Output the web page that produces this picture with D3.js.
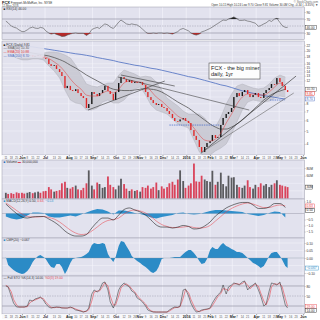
<!DOCTYPE html>
<html><head><meta charset="utf-8">
<script src="https://cdn.jsdelivr.net/npm/d3@7"></script>
<style>
html,body{margin:0;padding:0;background:#fff;}
svg{display:block;}
text{font-family:"Liberation Sans","DejaVu Sans",Arial,sans-serif;}
</style></head><body>
<svg id="chart" width="320" height="320"></svg>
<script>
// ---------------- data ----------------
// daily series: two sessions per week (Mon, Thu), 11-May-2015 .. 12-May-2016
const closes = [21.7,21.4,21.0,20.6,19.9,19.3,18.3,18.0,18.3,18.6,
 18.0,18.3,18.6,18.3,17.65,17.35,15.9,15.4,15.6,14.6,
 13.86,12.94,10.5,10.9,10.15,9.98,10.3,9.64,9.15,8.84,
 7.44,7.97,9.81,9.48,9.15,9.64,10.15,10.9,9.98,9.48,
 8.54,9.81,11.46,12.72,12.28,11.66,12.07,11.46,11.66,11.46,
 11.66,11.07,9.81,8.99,8.54,8.11,7.84,7.97,7.57,7.44,
 7.06,6.71,6.26,5.94,5.9,6.1,6.25,5.95,5.74,5.08,
 4.59,4.28,3.79,3.48,3.79,4.06,4.2,4.66,4.43,4.5,
 5.55,6.26,6.71,6.94,7.44,8.99,9.64,9.15,9.81,10.15,
 9.48,8.99,9.31,9.64,8.99,8.85,9.64,10.15,10.51,11.27,
 11.2,12.49,11.66,10.9,10.15,9.81];
const volumesM = [15,12,14,12,16,14,15,13,15,17,
 14,16,18,15,19,20,30,24,18,20,
 22,40,44,28,26,30,34,24,22,28,
 40,74,34,24,42,38,28,30,58,36,
 30,24,34,52,38,26,20,24,20,22,
 18,30,28,34,26,30,42,22,32,26,
 30,40,44,36,50,74,46,28,34,40,
 92,45,44,60,50,46,44,73,36,44,
 68,38,32,60,55,56,36,30,28,34,
 48,30,26,36,30,40,34,38,30,36,
 40,48,36,34,32,30];
const rsi14 = [64,59,50,47,44,39,34,34,39,44,
 47,44,43,46,44,36,30,27,29,26,
 23,20,21,24,27,29,30,29,29,29,
 23,27,40,43,46,43,51,56,53,47,
 43,50,61,67,61,56,54,56,54,53,
 47,41,33,29,29,30,29,30,30,29,
 30,29,27,30,34,40,43,40,36,30,
 26,24,27,33,36,39,43,47,53,57,
 63,67,66,70,73,76,71,66,66,67,
 64,63,60,58,49,51,56,59,66,63,
 70,72,60,51,46,46];
const stochK = [80,77,50,29,17,17,17,17,20,38,
 35,41,44,47,38,26,17,14,16,17,
 16,14,14,14,17,14,8,7,4,2,
 5,14,56,68,62,68,89,92,68,32,
 14,32,68,80,89,83,77,65,59,44,
 38,32,20,8,4,2,2,2,2,2,
 2,8,14,17,16,20,68,71,50,29,
 11,2,4,8,10,11,14,29,44,53,
 62,83,56,77,83,89,86,83,92,95,
 68,77,83,89,68,50,20,26,65,89,
 86,83,92,62,23,14];
const stochD = [82,78,63,40,23,17,17,17,18,29,
 36,38,42,45,42,32,22,16,15,16,
 16,15,14,14,15,15,11,8,6,3,
 4,9,35,62,65,65,78,90,80,50,
 23,23,50,74,84,86,80,71,62,52,
 41,35,26,14,6,3,2,2,2,2,
 2,5,11,15,16,18,44,69,60,40,
 20,7,3,6,9,10,12,21,36,48,
 57,72,70,66,80,86,87,85,87,93,
 82,72,80,86,79,59,35,23,45,77,
 87,85,87,77,43,19];
const cmf20 = [0.007,-0.047,-0.067,-0.08,-0.093,-0.1,-0.107,-0.103,-0.087,-0.067,
 -0.027,-0.007,0.013,0.02,0.007,-0.007,-0.04,-0.06,-0.067,-0.04,
 -0.04,-0.06,-0.107,-0.08,-0.033,-0.007,0,0.003,0.007,0.013,
 0.027,0.04,0.087,0.1,0.093,0.093,0.1,0.093,0.027,0,
 -0.027,0.007,0.08,0.113,0.107,0.08,0.047,0.013,-0.007,-0.02,
 -0.033,-0.047,-0.06,-0.073,-0.093,-0.1,-0.087,-0.06,-0.007,0,
 0,0,0.003,0.007,0.007,0.007,0.027,0.04,0.053,0.053,
 0.033,0.013,-0.02,-0.04,-0.033,-0.007,0.053,0.073,0.06,0.06,
 0.087,0.1,0.08,0.073,0.06,0.053,0.04,0.04,0.033,0.02,
 0,-0.013,-0.033,-0.04,-0.053,-0.067,-0.053,-0.027,0.013,0.033,
 0.04,0.04,0.013,-0.013,-0.053,-0.067];
// weekly series (Mondays)
const macdLine = [0.79,0.38,0,-0.29,-0.38,-0.29,-0.25,-0.25,-0.46,-0.71,
 -1.04,-1.46,-1.75,-1.88,-1.88,-1.75,-1.21,-0.71,-0.38,-0.38,
 -0.54,-0.13,0.33,0.46,0.29,0.13,-0.13,-0.54,-0.96,-1.13,
 -1.13,-1.21,-1.13,-1.0,-1.08,-1.29,-1.25,-1.04,-0.71,-0.21,
 0.13,0.46,0.67,0.83,0.92,0.92,0.71,0.42,0.42,0.54,
 0.83,0.83,0.5];
const macdSignal = [0.88,0.58,0.25,-0.04,-0.25,-0.29,-0.29,-0.25,-0.33,-0.46,
 -0.71,-1.04,-1.38,-1.63,-1.75,-1.71,-1.46,-1.13,-0.79,-0.58,
 -0.5,-0.38,-0.04,0.21,0.29,0.21,0.04,-0.25,-0.63,-0.92,
 -1.08,-1.17,-1.17,-1.13,-1.08,-1.17,-1.21,-1.17,-1.0,-0.63,
 -0.25,0.13,0.42,0.63,0.79,0.88,0.79,0.63,0.5,0.5,
 0.63,0.71,0.63];
const macdHist = [-0.25,-0.42,-0.5,-0.42,-0.17,0.08,0.08,0.04,-0.25,-0.33,
 -0.33,-0.25,-0.17,-0.25,-0.08,0.08,0.25,0.38,0.33,0.17,
 -0.08,0.25,0.25,0.17,0.04,-0.04,-0.17,-0.33,-0.42,-0.29,
 -0.21,-0.13,0.04,0.08,-0.04,-0.08,-0.04,0.08,0.21,0.29,
 0.29,0.25,0.21,0.17,0.13,-0.04,-0.13,-0.21,-0.13,0.04,
 0.17,0.13,-0.33];
const sma50 = [21.0,20.6,20.3,19.9,19.6,19.25,18.9,18.6,18.3,17.8,
 17.2,16.5,15.6,14.85,14.0,13.16,12.5,11.9,11.3,10.7,
 10.3,10.15,10.06,10.06,10.15,10.3,10.4,10.3,10.15,9.8,
 9.3,8.76,8.25,7.83,7.43,6.94,6.47,6.04,5.64,5.35,
 5.17,5.17,5.35,5.64,6.04,6.59,7.18,7.83,8.54,9.15,
 9.64,9.98,10.3];
const sma200 = [22.9,22.5,22.3,22.0,21.6,21.4,21.1,20.8,20.5,20.2,
 19.9,19.6,19.3,19.0,18.8,18.5,18.2,17.8,17.5,17.2,
 16.9,16.5,16.2,15.9,15.6,15.4,15.1,14.8,14.6,14.3,
 14.0,13.7,13.4,13.1,12.8,12.6,12.3,12.0,11.7,11.4,
 11.1,10.9,10.6,10.3,10.0,9.8,9.6,9.4,9.2,9.1,
 8.95,8.8,8.7];
const ema20 = [21.7,21.0,20.3,19.25,18.6,18.3,18.3,18.1,17.5,16.5,
 15.4,13.9,12.3,11.1,10.3,9.3,9.15,9.15,9.64,9.98,
 9.64,10.3,11.46,11.86,11.76,11.66,11.07,9.98,8.99,8.39,
 7.7,7.06,6.47,6.15,5.84,5.26,4.66,4.27,4.2,4.35,
 4.82,5.74,6.7,7.97,8.99,9.47,9.47,9.31,9.31,9.81,
 10.69,11.46,10.88];
const bbUpper = [23.3,22.9,22.5,21.4,19.9,19.25,19.25,19.25,19.6,19.6,
 19.25,18.6,17.7,15.6,13.16,11.26,10.9,10.7,11.07,11.46,
 11.46,13.16,14.35,13.86,13.39,12.7,12.9,12.7,11.66,10.15,
 8.84,8.25,7.7,7.06,6.7,6.7,6.7,6.25,5.54,5.35,
 6.36,7.97,9.47,10.88,11.26,10.88,10.51,10.33,10.51,11.26,
 12.49,13.16,12.7];
const bbLower = [19.6,18.6,17.7,17.1,17.1,17.4,17.4,17.1,15.4,14.1,
 12.5,10.15,8.54,8.11,7.97,7.18,7.18,7.43,8.25,8.54,
 8.11,8.11,8.54,9.47,10.33,10.7,9.31,7.83,7.18,6.94,
 6.7,6.15,5.64,5.44,5.26,4.27,3.48,3.19,3.3,3.54,
 3.72,3.99,4.74,5.84,7.18,8.25,8.54,8.39,8.25,8.39,
 8.84,9.15,8.99];
const lastOHLC = [10.15,10.24,9.70,9.81];
const monthLabels = ["Jun","Jul","Aug","Sep","Oct","Nov","Dec","2016","Feb","Mar","Apr","May","Jun"];
const priceTicks = [4,5,6,7,8,9,10,11,12,13,14,15,16,18,20,22];
const rsiTicks = [90,70,30];
const volTicks = [20,40,60,80];
const macdTicks = [1,0.5,0,-0.5,-1,-1.5];
const cmfTicks = [0.1,0.05,0,-0.05,-0.1];
const stoTicks = [80,50,20];
const trendLines = [
  {from:[new Date(2015,7,26),7.18], to:[new Date(2015,11,4),11.86], color:"#333"},
  {from:[new Date(2015,9,8),13.16], to:[new Date(2015,11,17),10.88], color:"#333"},
  {from:[new Date(2015,9,4),12.71], to:[new Date(2016,2,23),7.18], color:"#444"},
  {from:[new Date(2016,0,20),3.40], to:[new Date(2016,4,23),12.93], color:"#222"},
  {from:[new Date(2016,0,25),3.57], to:[new Date(2016,4,20),9.64], color:"#666"}
];
const levelLines = [
  {from:new Date(2015,11,10), to:new Date(2016,1,14), price:5.54},
  {from:new Date(2016,3,19), to:new Date(2016,4,8), price:8.54}
];
const noteLines = ["FCX - the big miner","daily, 1yr"];

// ---------------- layout ----------------
const BG="#e2e2ee", GRID="#f4f4fa", BORDER="#9c9cac", RED="#e02a2a", FONT="Liberation Sans, Arial, sans-serif";
const X0=2, X1=304.5;
const P={rsi:[7,39.5], price:[41,155], vol:[160,199], macd:[199,238], cmf:[238,276], sto:[276,314]};

const days = d3.timeDay.range(new Date(2015,4,11), new Date(2016,4,13)).filter(d=>d.getDay()===1||d.getDay()===4);
const weeks = days.filter(d=>d.getDay()===1);
const monthStarts = d3.timeMonth.range(new Date(2015,5,1), new Date(2016,5,2));
const mondays = d3.timeMonday.range(new Date(2015,4,6), new Date(2016,5,3));

const x = d3.scaleTime().domain([new Date(2015,4,6), new Date(2016,5,3)]).range([X0,X1]);
const rsiY = d3.scaleLinear().domain([0,100]).range([43.5,8.5]);
const priceY = d3.scaleLog().domain([3.3,23.3]).range([155,42]);
const volY = d3.scaleLinear().domain([0,100]).range([198.5,160.5]);
const macdY = d3.scaleLinear().domain([-2,1]).range([237.5,201.5]);
const cmfY = d3.scaleLinear().domain([-0.12,0.12]).range([276,240]);
const stoY = d3.scaleLinear().domain([0,100]).range([312.7,279.3]);

const svg = d3.select("#chart");
svg.append("rect").attr("width",320).attr("height",320).attr("fill","#fff");
const defs = svg.append("defs");

function makePanel(key){
  const [t,b] = P[key];
  defs.append("clipPath").attr("id","cp-"+key).append("rect")
    .attr("x",X0).attr("y",t).attr("width",X1-X0).attr("height",b-t);
  const g = svg.append("g");
  g.append("rect").attr("x",X0).attr("y",t).attr("width",X1-X0).attr("height",b-t).attr("fill",BG);
  g.append("g").selectAll("line").data(monthStarts).join("line")
    .attr("x1",d=>x(d)).attr("x2",d=>x(d)).attr("y1",t).attr("y2",b)
    .attr("stroke",GRID).attr("stroke-width",0.7);
  const c = g.append("g").attr("clip-path",`url(#cp-${key})`);
  return {g,c,t,b};
}
function frame(p){
  p.g.append("rect").attr("x",X0).attr("y",p.t).attr("width",X1-X0).attr("height",p.b-p.t)
    .attr("fill","none").attr("stroke",BORDER).attr("stroke-width",0.5);
}
function hlines(p, scale, vals, color, width, dash){
  p.c.append("g").selectAll("line").data(vals).join("line")
    .attr("x1",X0).attr("x2",X1).attr("y1",d=>scale(d)).attr("y2",d=>scale(d))
    .attr("stroke",color).attr("stroke-width",width).attr("stroke-dasharray",dash||null);
}
// right axis + current-value boxes, spaced so that no two texts collide
function rightSide(p, scale, ticks, fmt, items){
  const placed = items.map(it=>({...it, y:scale(it.v)})).sort((a,b)=>a.y-b.y);
  for(let i=1;i<placed.length;i++) if(placed[i].y < placed[i-1].y+4.4) placed[i].y = placed[i-1].y+4.4;
  const keep = ticks.filter(t=>placed.every(b=>Math.abs(scale(t)-b.y)>4.2));
  const ax = d3.axisRight(scale).tickValues(keep).tickFormat(fmt).tickSize(1.2).tickPadding(0.8);
  const a = p.g.append("g").attr("transform",`translate(${X1},0)`).call(ax);
  a.select(".domain").remove();
  a.selectAll("text").attr("font-size",3.3).attr("fill","#333").attr("font-family",FONT);
  a.selectAll("line").attr("stroke","#777").attr("stroke-width",0.4);
  placed.forEach(b=>{
    const w = b.txt.length*1.85+1.4;
    p.g.append("rect").attr("x",X1+1.2).attr("y",b.y-2).attr("width",w).attr("height",4)
      .attr("fill","#fff").attr("stroke",b.color).attr("stroke-width",0.45);
    p.g.append("text").attr("x",X1+1.9).attr("y",b.y+1.15).attr("font-size",3.3)
      .attr("fill",b.color).attr("font-family",FONT).text(b.txt);
  });
}
function panelLabel(p, y, parts){
  const t = p.g.append("text").attr("x",X0+1.5).attr("y",y).attr("font-size",3.2).attr("font-family",FONT);
  parts.forEach(([s,c])=>t.append("tspan").attr("fill",c).text(s));
}
function dateAxis(yTop){
  const g = svg.append("g");
  g.append("rect").attr("x",X0).attr("y",yTop).attr("width",X1-X0).attr("height",5).attr("fill","#f8f8fb");
  const minor = mondays.filter(m=>monthStarts.every(s=>Math.abs(x(s)-x(m))>4.5));
  g.append("g").selectAll("text").data(minor).join("text")
    .attr("x",d=>x(d)).attr("y",yTop+3.7).attr("text-anchor","middle")
    .attr("font-size",2.8).attr("fill","#555").attr("font-family",FONT)
    .text(d=>d.getDate());
  const ax = d3.axisBottom(x).tickValues(monthStarts).tickFormat((d,i)=>monthLabels[i]).tickSize(1.3).tickPadding(0.2);
  const a = g.append("g").attr("transform",`translate(0,${yTop})`).call(ax);
  a.select(".domain").remove();
  a.selectAll("line").attr("stroke","#555").attr("stroke-width",0.5);
  a.selectAll("text").attr("font-size",3.5).attr("font-weight","bold").attr("fill","#222").attr("font-family",FONT);
}
const f2 = d3.format(".2f");
const last = closes.length-1;

// ---------------- header ----------------
const h1 = svg.append("text").attr("x",2).attr("y",3.6).attr("font-family",FONT);
h1.append("tspan").attr("font-size",4).attr("font-weight","bold").attr("fill","#111").text("FCX");
h1.append("tspan").attr("font-size",3).attr("fill","#333").text("  Freeport-McMoRan, Inc.  NYSE");
svg.append("text").attr("x",2).attr("y",6.6).attr("font-size",2.8).attr("fill","#444").attr("font-family",FONT).text("12-May-2016");
svg.append("text").attr("x",318).attr("y",3).attr("text-anchor","end").attr("font-size",2.8).attr("fill","#666").attr("font-family",FONT).text("© StockCharts.com");
const chg = closes[last]-closes[last-1];
svg.append("text").attr("x",318).attr("y",6.4).attr("text-anchor","end").attr("font-size",2.9).attr("fill","#333").attr("font-family",FONT)
  .text(`Open ${f2(lastOHLC[0])}  High ${f2(lastOHLC[1])}  Low ${f2(lastOHLC[2])}  Close ${f2(lastOHLC[3])}  Volume ${volumesM[last].toFixed(1)}M  Chg ${f2(chg)} (${f2(chg/closes[last-1]*100)}%) ▼`);

// ---------------- RSI ----------------
const pr = makePanel("rsi");
hlines(pr, rsiY, [70,30], "#8a8a9a", 0.6);
hlines(pr, rsiY, [50], "#9a9aaa", 0.5, "1.5,1");
pr.c.append("path").datum(rsi14).attr("fill","#b52a2a")
  .attr("d", d3.area().x((d,i)=>x(days[i])).y0(rsiY(30)).y1(d=>rsiY(Math.min(d,30))));
pr.c.append("path").datum(rsi14).attr("fill","#222")
  .attr("d", d3.area().x((d,i)=>x(days[i])).y0(rsiY(70)).y1(d=>rsiY(Math.max(d,70))));
pr.c.append("path").datum(rsi14).attr("fill","none").attr("stroke","#444").attr("stroke-width",0.55)
  .attr("d", d3.line().x((d,i)=>x(days[i])).y(d=>rsiY(d)));
panelLabel(pr, 10.3, [["■ ","#333"],["RSI(14) "+f2(rsi14[last]),"#333"]]);
rightSide(pr, rsiY, rsiTicks, d=>d, [{v:rsi14[last], txt:f2(rsi14[last]), color:"#333"}]);
frame(pr);

// ---------------- PRICE ----------------
const pp = makePanel("price");
hlines(pp, priceY, priceTicks, GRID, 0.5);
pp.c.append("path").datum(weeks).attr("fill","#c3c3cc").attr("fill-opacity",0.75)
  .attr("d", d3.area().x(d=>x(d)).y0((d,i)=>priceY(bbLower[i])).y1((d,i)=>priceY(bbUpper[i])));
[bbUpper,bbLower].forEach(arr=>pp.c.append("path").datum(arr).attr("fill","none").attr("stroke","#a8a8b2").attr("stroke-width",0.4)
  .attr("d", d3.line().x((d,i)=>x(weeks[i])).y(d=>priceY(d))));
pp.c.append("path").datum(sma200).attr("fill","none").attr("stroke","#4a6cc0").attr("stroke-width",0.8)
  .attr("d", d3.line().x((d,i)=>x(weeks[i])).y(d=>priceY(d)).curve(d3.curveMonotoneX));
pp.c.append("path").datum(sma50).attr("fill","none").attr("stroke","#555").attr("stroke-width",0.8)
  .attr("d", d3.line().x((d,i)=>x(weeks[i])).y(d=>priceY(d)).curve(d3.curveMonotoneX));
levelLines.forEach(l=>pp.c.append("line").attr("x1",x(l.from)).attr("x2",x(l.to))
  .attr("y1",priceY(l.price)).attr("y2",priceY(l.price)).attr("stroke","#3c64c8").attr("stroke-width",0.7).attr("stroke-dasharray","1.5,0.8"));
const openOf = i => i>0 ? closes[i-1] : closes[0]*1.01;
pp.c.append("g").selectAll("rect").data(closes).join("rect")
  .attr("x",(d,i)=>x(days[i])-0.7).attr("width",1.4)
  .attr("y",(d,i)=>Math.min(priceY(d),priceY(openOf(i))))
  .attr("height",(d,i)=>Math.max(0.8,Math.abs(priceY(d)-priceY(openOf(i)))))
  .attr("fill",(d,i)=> d<openOf(i)?RED:"#151515");
pp.c.append("path").datum(ema20).attr("fill","none").attr("stroke","#e23b3b").attr("stroke-width",0.5)
  .attr("d", d3.line().x((d,i)=>x(weeks[i])).y(d=>priceY(d)).curve(d3.curveMonotoneX));
trendLines.forEach(t=>pp.c.append("line")
  .attr("x1",x(t.from[0])).attr("y1",priceY(t.from[1])).attr("x2",x(t.to[0])).attr("y2",priceY(t.to[1]))
  .attr("stroke",t.color).attr("stroke-width",0.6));
// note box
const nb = pp.g.append("g");
nb.append("rect").attr("x",209).attr("y",63).attr("width",51).attr("height",16).attr("fill","#fdfdfd").attr("stroke","#333").attr("stroke-width",0.5);
nb.selectAll("text").data(noteLines).join("text").attr("x",211).attr("y",(d,i)=>69.5+i*6.8)
  .attr("font-size",5.6).attr("fill","#222").attr("font-family",FONT).text(d=>d);
// legend
pp.g.append("rect").attr("x",X0+0.3).attr("y",P.price[0]+0.3).attr("width",42).attr("height",16.5).attr("fill",BG).attr("opacity",0.92);
panelLabel(pp, 45.5, [["■ ","#222"],["FCX (Daily) "+f2(closes[last]),"#333"]]);
panelLabel(pp, 49.3, [["— ","#555"],["SMA(50) "+f2(sma50[sma50.length-1]),"#555"]]);
panelLabel(pp, 53.1, [["— ","#e23b3b"],["EMA(20) "+f2(ema20[ema20.length-1]),"#e23b3b"]]);
panelLabel(pp, 56.9, [["— ","#4a6cc0"],["SMA(200) "+f2(sma200[sma200.length-1]),"#4a6cc0"]]);
rightSide(pp, priceY, priceTicks, d=>d, [
  {v:sma50[sma50.length-1], txt:f2(sma50[sma50.length-1]), color:"#555"},
  {v:closes[last], txt:f2(closes[last]), color:RED},
  {v:sma200[sma200.length-1], txt:f2(sma200[sma200.length-1]), color:"#4a6cc0"}
]);
frame(pp);
dateAxis(P.price[1]);

// ---------------- VOLUME ----------------
const pv = makePanel("vol");
hlines(pv, volY, volTicks, GRID, 0.5);
pv.c.append("g").selectAll("rect").data(volumesM).join("rect")
  .attr("x",(d,i)=>x(days[i])-0.9).attr("width",1.8)
  .attr("y",d=>volY(d)).attr("height",d=>volY(0)-volY(d))
  .attr("fill",(d,i)=> i>0 && closes[i]<closes[i-1] ? "#d9435a" : "#5a5a5e");
panelLabel(pv, 163.3, [["■ ","#2a6fb8"],["Volume ","#333"],["▬ ","#d9435a"],[d3.format(",")(volumesM[last]*1000000),"#333"]]);
rightSide(pv, volY, volTicks, d=>d+"M", [{v:volumesM[last], txt:volumesM[last]+"M", color:"#333"}]);
frame(pv);

// ---------------- MACD ----------------
const pm = makePanel("macd");
hlines(pm, macdY, [0], "#9a9aaa", 0.5);
pm.c.append("path").datum(macdHist).attr("fill","#2f8fcb")
  .attr("d", d3.area().x((d,i)=>x(weeks[i])).y0(macdY(0)).y1(d=>macdY(d)));
pm.c.append("path").datum(macdSignal).attr("fill","none").attr("stroke","#e8474f").attr("stroke-width",0.55)
  .attr("d", d3.line().x((d,i)=>x(weeks[i])).y(d=>macdY(d)).curve(d3.curveMonotoneX));
pm.c.append("path").datum(macdLine).attr("fill","none").attr("stroke","#222").attr("stroke-width",0.6)
  .attr("d", d3.line().x((d,i)=>x(weeks[i])).y(d=>macdY(d)).curve(d3.curveMonotoneX));
const mL = macdLine[macdLine.length-1], mS = macdSignal[macdSignal.length-1];
panelLabel(pm, 202.3, [["■ ","#2f8fcb"],["MACD(12,26,9) ","#333"],[f2(mL)+", ","#222"],[f2(mS)+", ","#e8474f"],[f2(mL-mS),"#2f8fcb"]]);
rightSide(pm, macdY, macdTicks, d3.format(".1f"), [
  {v:mS, txt:f2(mS), color:"#e8474f"},
  {v:mL, txt:f2(mL), color:"#222"}
]);
frame(pm);

// ---------------- CMF ----------------
const pc = makePanel("cmf");
hlines(pc, cmfY, cmfTicks, GRID, 0.5);
pc.c.append("path").datum(cmf20).attr("fill","#2b8bc6")
  .attr("d", d3.area().x((d,i)=>x(days[i])).y0(cmfY(0)).y1(d=>cmfY(d)));
hlines(pc, cmfY, [0], "#7a8aa0", 0.4);
panelLabel(pc, 241.3, [["■ ","#2b8bc6"],["CMF(20) "+d3.format(".3f")(cmf20[last]),"#333"]]);
rightSide(pc, cmfY, cmfTicks, d3.format(".2f"), [{v:cmf20[last], txt:d3.format(".3f")(cmf20[last]), color:"#2b8bc6"}]);
frame(pc);

// ---------------- STOCHASTIC ----------------
const ps = makePanel("sto");
hlines(ps, stoY, [80,20], "#8a8a9a", 0.6);
hlines(ps, stoY, [50], "#9a9aaa", 0.5, "1.5,1");
ps.c.append("path").datum(stochD).attr("fill","none").attr("stroke","#e8474f").attr("stroke-width",0.6)
  .attr("d", d3.line().x((d,i)=>x(days[i])).y(d=>stoY(d)));
ps.c.append("path").datum(stochK).attr("fill","none").attr("stroke","#333").attr("stroke-width",0.55)
  .attr("d", d3.line().x((d,i)=>x(days[i])).y(d=>stoY(d)));
panelLabel(ps, 279.3, [["— ","#333"],["Full STO %K(14,3) "+f2(stochK[last]),"#333"],[", %D(3) "+f2(stochD[last]),"#e8474f"]]);
rightSide(ps, stoY, stoTicks, d=>d, [
  {v:stochD[last], txt:f2(stochD[last]), color:"#e8474f"},
  {v:stochK[last], txt:f2(stochK[last]), color:"#333"}
]);
frame(ps);
dateAxis(P.sto[1]);
</script>
</body></html>
